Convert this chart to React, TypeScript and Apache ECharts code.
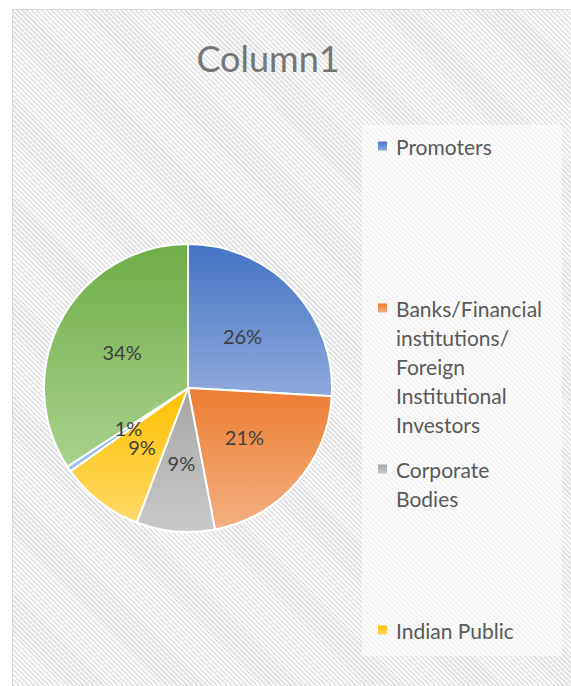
import React, { useEffect, useRef } from "react";
import * as echarts from "echarts";

const categories = [
  "Promoters",
  "Banks/Financial institutions/Foreign Institutional Investors",
  "Corporate Bodies",
  "Indian Public",
  "NRIs",
  "Others",
];
const shares = [25.9, 21.1, 8.8, 9.4, 0.6, 34.2];
const topColors = ["#4472C4", "#ED7D31", "#A5A5A5", "#FFC000", "#5B9BD5", "#70AD47"];
const bottomColors = ["#8FAADC", "#F4B183", "#C9C9C9", "#FFD966", "#9DC3E6", "#A9D18E"];
const legendCount = 4;
const legendLines = [
  ["Promoters"],
  ["Banks/Financial", "institutions/", "Foreign", "Institutional", "Investors"],
  ["Corporate", "Bodies"],
  ["Indian Public"],
];
const legendRowY = [146, 308, 469, 630];
const titleText = "Column1";

const FONT = "Lato, 'Open Sans', sans-serif";
const CENTER = [188, 388];
const RADIUS = 144;

export default function App() {
  const ref = useRef<HTMLDivElement>(null);
  useEffect(() => {
    document.body.style.margin = "0";
    if (!ref.current) return;
    const chart = echarts.init(ref.current, null, { renderer: "svg" });
    const grad = (i: number) =>
      new echarts.graphic.LinearGradient(0, 0, 0, 1, [
        { offset: 0, color: topColors[i] },
        { offset: 1, color: bottomColors[i] },
      ]);
    const legendGraphics: any[] = [
      {
        type: "rect",
        shape: { x: 362, y: 125, width: 200, height: 531 },
        style: { fill: "rgba(255,255,255,0.6)" },
        silent: true,
      },
    ];
    for (let i = 0; i < legendCount; i++) {
      const cy = legendRowY[i];
      legendGraphics.push({
        type: "rect",
        shape: { x: 378, y: cy - 4.5, width: 9, height: 9 },
        style: { fill: grad(i) },
      });
      legendGraphics.push({
        type: "text",
        x: 396,
        y: cy - 14.5,
        style: {
          text: legendLines[i].join("\n"),
          font: `21px ${FONT}`,
          fill: "#595959",
          verticalAlign: "top",
          align: "left",
          lineHeight: 29,
        },
      });
    }
    // ECharts hides inside labels of very thin slices; draw those labels at the
    // same spot the pie would use (mid-angle, half radius).
    const total = shares.reduce((a, b) => a + b, 0);
    const smallLabels: any[] = [];
    let cum = 0;
    shares.forEach((v, i) => {
      const mid = ((cum + v / 2) / total) * Math.PI * 2;
      cum += v;
      if (v / total < 0.02) {
        smallLabels.push({
          type: "text",
          x: CENTER[0] + (RADIUS / 2) * Math.sin(mid),
          y: CENTER[1] - (RADIUS / 2) * Math.cos(mid),
          z: 10,
          style: {
            text: `${Math.round(v)}%`,
            font: `20px ${FONT}`,
            fill: "#404040",
            align: "center",
            verticalAlign: "middle",
          },
        });
      }
    });
    chart.setOption({
      animation: false,
      backgroundColor: "transparent",
      graphic: [
        {
          type: "text",
          x: 268,
          y: 58,
          style: {
            text: titleText,
            font: `36px ${FONT}`,
            fill: "#757575",
            align: "center",
            verticalAlign: "middle",
          },
        },
        ...legendGraphics,
        ...smallLabels,
      ],
      series: [
        {
          type: "pie",
          center: CENTER,
          radius: [0, RADIUS],
          startAngle: 90,
          clockwise: true,
          avoidLabelOverlap: false,
          itemStyle: { borderColor: "#ffffff", borderWidth: 2 },
          label: {
            show: true,
            position: "inside",
            formatter: (p: any) => `${Math.round(p.value)}%`,
            color: "#404040",
            fontSize: 20,
            fontFamily: FONT,
          },
          labelLine: { show: false },
          emphasis: { disabled: true },
          data: categories.map((name, i) => ({
            name,
            value: shares[i],
            itemStyle: { color: grad(i) },
            label: shares[i] / 100 < 0.02 ? { show: false } : undefined,
          })),
        },
      ],
    });
    return () => chart.dispose();
  }, []);
  return (
    <div style={{ position: "relative", width: 571, height: 686, overflow: "hidden", background: "#fff" }}>
      <div
        style={{
          position: "absolute",
          left: 12,
          top: 9,
          right: -2,
          bottom: -2,
          borderLeft: "1px solid #d9d9d9",
          borderTop: "1px solid #d9d9d9",
          background:
            "repeating-linear-gradient(45deg, #fbfbfb 0px, #fbfbfb 1.8px, #e2e2e2 1.8px, #e2e2e2 3.5px)",
        }}
      />
      <div ref={ref} style={{ position: "absolute", left: 0, top: 0, width: 571, height: 686 }} />
    </div>
  );
}
